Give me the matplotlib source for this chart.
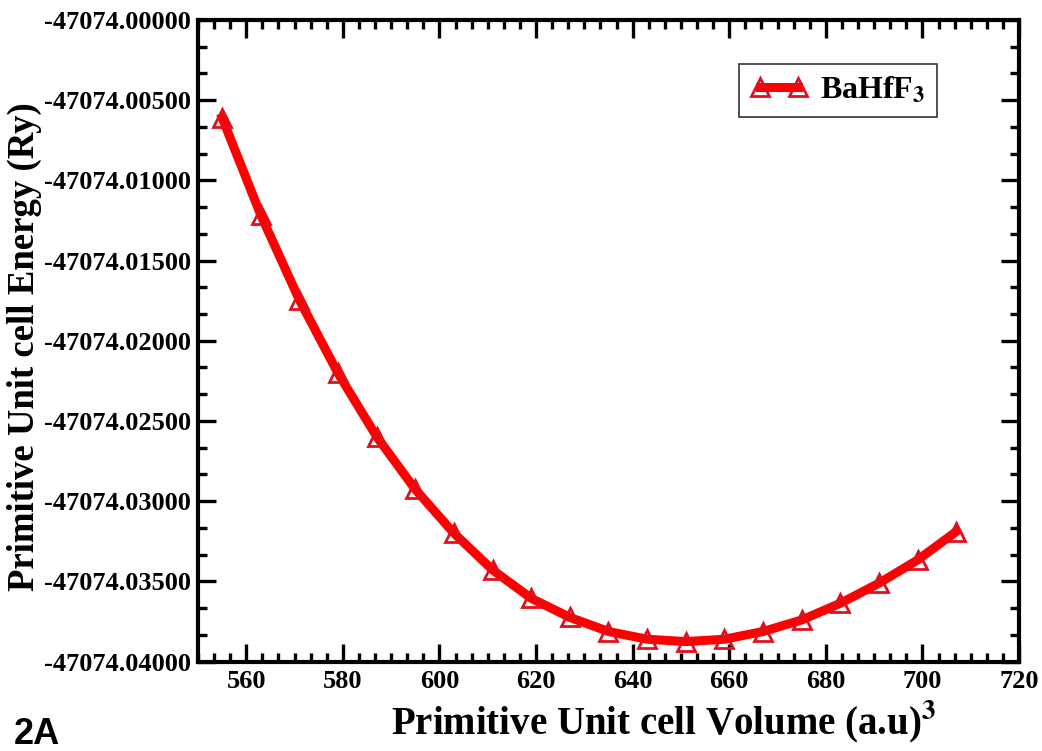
import matplotlib
matplotlib.use("Agg")
import matplotlib.pyplot as plt
from matplotlib.ticker import MultipleLocator, AutoMinorLocator, FuncFormatter

# Data
volume = [555, 563, 571, 579, 587, 595, 603, 611, 619, 627,
          635, 643, 651, 659, 667, 675, 683, 691, 699, 707]
energy = [-47074.00610, -47074.01216, -47074.01746, -47074.02203, -47074.02598,
          -47074.02927, -47074.03200, -47074.03429, -47074.03606, -47074.03725,
          -47074.03813, -47074.03861, -47074.03876, -47074.03861, -47074.03813,
          -47074.03741, -47074.03637, -47074.03512, -47074.03367, -47074.03190]
series_label = "BaHfF$_{\\mathbf{3}}$"
x_label = "Primitive Unit cell Volume (a.u)$^{\\mathbf{3}}$"
y_label = "Primitive Unit cell Energy (Ry)"
panel_label = "2A"

plt.rcParams['font.family'] = ['Liberation Serif', 'DejaVu Serif']
plt.rcParams['font.weight'] = 'bold'
plt.rcParams['mathtext.fontset'] = 'stix'

W, H = 1042, 751
fig = plt.figure(figsize=(W / 100, H / 100), dpi=100)
ax = fig.add_axes([198 / W, 1 - 661.5 / H, (1019 - 198) / W, (661.5 - 20) / H])

ax.plot(volume, energy, color='#ff0000', lw=6.5, marker='^', ms=13,
        mfc='none', mec='#e0101e', mew=2.0, label=series_label, zorder=3)

ax.set_xlim(550, 720)
ax.set_ylim(-47074.04, -47074.00)
ax.xaxis.set_major_locator(MultipleLocator(20))
ax.xaxis.set_minor_locator(AutoMinorLocator(6))
ax.yaxis.set_major_locator(MultipleLocator(0.005))
ax.yaxis.set_minor_locator(AutoMinorLocator(3))
ax.yaxis.set_major_formatter(FuncFormatter(lambda v, p: "%.5f" % v))
ax.xaxis.set_major_formatter(FuncFormatter(lambda v, p: "%d" % round(v)))

for s in ax.spines.values():
    s.set_linewidth(3)
ax.tick_params(which='both', direction='in', top=True, right=True, width=2.4)
ax.tick_params(which='major', length=13, labelsize=19, pad=6)
ax.tick_params(axis='y', which='major', pad=5)
ax.tick_params(which='minor', length=6.5)
for lab in ax.get_xticklabels() + ax.get_yticklabels():
    lab.set_fontweight('bold')

fig.text(664 / W, 1 - 722 / H, x_label, ha='center', va='center',
         fontsize=28, fontweight='bold')
fig.text(24 / W, 1 - 347 / H, y_label, ha='center', va='center',
         rotation=90, fontsize=26.5, fontweight='bold')
fig.text(14 / W, 7 / H, panel_label, ha='left', va='baseline',
         fontsize=26, fontweight='bold', family=['Liberation Sans', 'DejaVu Sans'])

leg = ax.legend(loc='upper right',
                bbox_to_anchor=((937 - 198) / (1019 - 198), (661.5 - 64) / (661.5 - 20)),
                borderaxespad=0, frameon=True, fancybox=False, edgecolor='black',
                fontsize=23, numpoints=2, handlelength=1.8, borderpad=0.35,
                handletextpad=0.4, markerscale=1.0)
leg.get_frame().set_linewidth(1.2)
for t in leg.get_texts():
    t.set_fontweight('bold')

fig.savefig('out.png', dpi=100)
